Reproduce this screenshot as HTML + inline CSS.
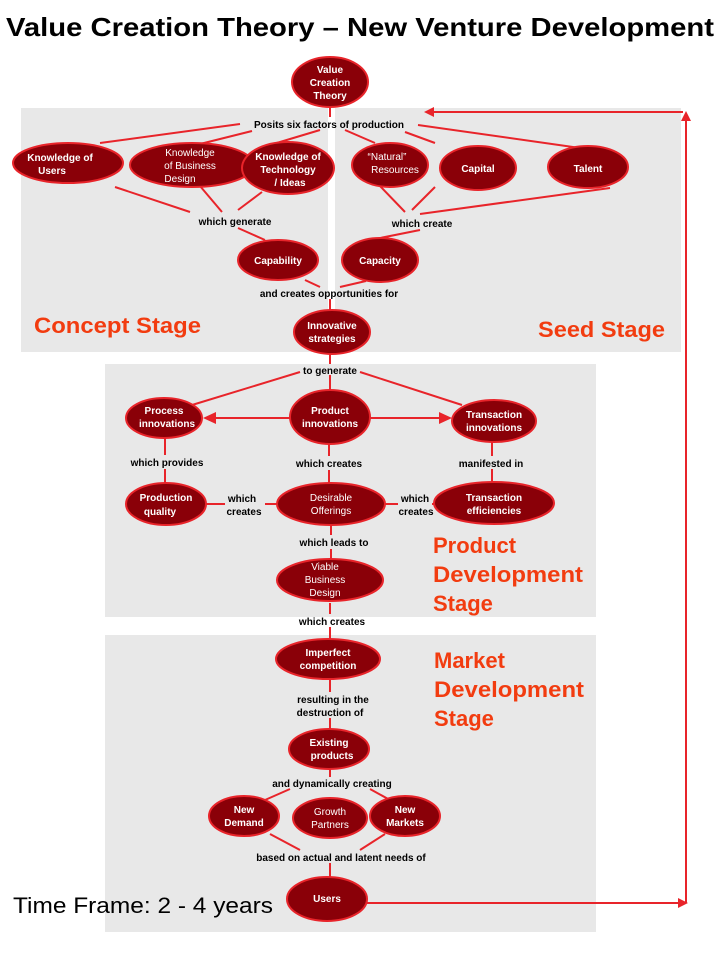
<!DOCTYPE html>
<html><head><meta charset="utf-8"><style>
html,body{margin:0;padding:0;background:#fff;}
svg{display:block;font-family:"Liberation Sans",Arial,sans-serif;}
.n{fill:#8a0008;stroke:#e8242a;stroke-width:2;}
.t{fill:#fff;font-size:10px;font-weight:bold;text-anchor:middle;}
.tn{fill:#fff;font-size:10px;text-anchor:middle;}
.l{fill:#000;font-size:10px;font-weight:bold;text-anchor:middle;}
.s{fill:#f23c10;font-size:22px;font-weight:bold;}
.c{stroke:#e8242a;stroke-width:2;fill:none;}
</style></head><body>
<svg width="720" height="960" viewBox="0 0 720 960">
<text x="360" y="36" text-anchor="middle" font-size="26" font-weight="bold" textLength="708" lengthAdjust="spacingAndGlyphs">Value Creation Theory – New Venture Development</text>
<rect x="21" y="108" width="307" height="244" fill="#e8e8e8"/>
<rect x="335" y="108" width="346" height="244" fill="#e8e8e8"/>
<rect x="105" y="364" width="491" height="253" fill="#e8e8e8"/>
<rect x="105" y="635" width="491" height="297" fill="#e8e8e8"/>
<g class="c">
<line x1="330" y1="105" x2="330" y2="117"/>
<line x1="240" y1="124" x2="100" y2="143"/>
<line x1="252" y1="131" x2="200" y2="144"/>
<line x1="320" y1="130" x2="270" y2="145"/>
<line x1="345" y1="130" x2="375" y2="143"/>
<line x1="405" y1="132" x2="435" y2="143"/>
<line x1="418" y1="125" x2="580" y2="148"/>
<line x1="115" y1="187" x2="190" y2="212"/>
<line x1="200" y1="186" x2="222" y2="212"/>
<line x1="262" y1="192" x2="238" y2="210"/>
<line x1="380" y1="186" x2="405" y2="212"/>
<line x1="435" y1="187" x2="412" y2="210"/>
<line x1="610" y1="188" x2="420" y2="214"/>
<line x1="238" y1="228" x2="265" y2="240"/>
<line x1="420" y1="230" x2="370" y2="240"/>
<line x1="305" y1="280" x2="320" y2="287"/>
<line x1="366" y1="281" x2="340" y2="287"/>
<line x1="330" y1="299" x2="330" y2="312"/>
<line x1="330" y1="354" x2="330" y2="364"/>
<line x1="300" y1="372" x2="192" y2="405"/>
<line x1="360" y1="372" x2="462" y2="405"/>
<line x1="330" y1="375" x2="330" y2="390"/>
<line x1="290" y1="418" x2="215" y2="418"/>
<line x1="370" y1="418" x2="440" y2="418"/>
<line x1="165" y1="438" x2="165" y2="455"/>
<line x1="165" y1="469" x2="165" y2="484"/>
<line x1="329" y1="444" x2="329" y2="456"/>
<line x1="329" y1="470" x2="329" y2="484"/>
<line x1="492" y1="442" x2="492" y2="456"/>
<line x1="492" y1="469" x2="492" y2="483"/>
<line x1="206" y1="504" x2="225" y2="504"/>
<line x1="265" y1="504" x2="278" y2="504"/>
<line x1="385" y1="504" x2="398" y2="504"/>
<line x1="432" y1="504" x2="445" y2="504"/>
<line x1="331" y1="525" x2="331" y2="535"/>
<line x1="331" y1="549" x2="331" y2="559"/>
<line x1="330" y1="603" x2="330" y2="614"/>
<line x1="330" y1="627" x2="330" y2="639"/>
<line x1="330" y1="679" x2="330" y2="692"/>
<line x1="330" y1="718" x2="330" y2="729"/>
<line x1="330" y1="769" x2="330" y2="777"/>
<line x1="290" y1="789" x2="265" y2="800"/>
<line x1="370" y1="789" x2="390" y2="800"/>
<line x1="270" y1="834" x2="300" y2="850"/>
<line x1="385" y1="834" x2="360" y2="850"/>
<line x1="330" y1="863" x2="330" y2="877"/>
<line x1="367" y1="903" x2="680" y2="903"/>
<line x1="686" y1="903" x2="686" y2="118"/>
<line x1="683" y1="112" x2="432" y2="112"/>
</g>
<g fill="#e8242a">
<polygon points="688,903 678,898 678,908"/>
<polygon points="686,111 681,121 691,121"/>
<polygon points="424,112 434,107 434,117"/>
<polygon points="203,418 216,412 216,424"/>
<polygon points="452,418 439,412 439,424"/>
</g>
<ellipse class="n" cx="330" cy="82" rx="38" ry="25"/>
<text class="t" x="330" y="73">Value</text><text class="t" x="330" y="86">Creation</text><text class="t" x="330" y="99">Theory</text>
<text class="l" x="329" y="128">Posits six factors  of production</text>
<ellipse class="n" cx="68" cy="163" rx="55" ry="20"/>
<text class="t" x="60" y="161">Knowledge of</text><text class="t" x="52" y="174">Users</text>
<ellipse class="n" cx="192" cy="165" rx="62" ry="22"/>
<text class="tn" x="190" y="156">Knowledge</text><text class="tn" x="190" y="169">of Business</text><text class="tn" x="180" y="182">Design</text>
<ellipse class="n" cx="288" cy="168" rx="46" ry="26"/>
<text class="t" x="288" y="160">Knowledge of</text><text class="t" x="288" y="173">Technology</text><text class="t" x="290" y="186">/ Ideas</text>
<ellipse class="n" cx="390" cy="165" rx="38" ry="22"/>
<text class="tn" x="387" y="160">“Natural”</text><text class="tn" x="395" y="173">Resources</text>
<ellipse class="n" cx="478" cy="168" rx="38" ry="22"/>
<text class="t" x="478" y="172">Capital</text>
<ellipse class="n" cx="588" cy="167" rx="40" ry="21"/>
<text class="t" x="588" y="172">Talent</text>
<text class="l" x="235" y="225">which generate</text>
<text class="l" x="422" y="227">which create</text>
<ellipse class="n" cx="278" cy="260" rx="40" ry="20"/>
<text class="t" x="278" y="264">Capability</text>
<ellipse class="n" cx="380" cy="260" rx="38" ry="22"/>
<text class="t" x="380" y="264">Capacity</text>
<text class="l" x="329" y="297">and creates opportunities for</text>
<ellipse class="n" cx="332" cy="332" rx="38" ry="22"/>
<text class="t" x="332" y="329">Innovative</text><text class="t" x="332" y="342">strategies</text>
<text class="s" x="34" y="333" textLength="167" lengthAdjust="spacingAndGlyphs">Concept Stage</text>
<text class="s" x="538" y="337" textLength="127" lengthAdjust="spacingAndGlyphs">Seed Stage</text>
<text class="l" x="330" y="374">to generate</text>
<ellipse class="n" cx="164" cy="418" rx="38" ry="20"/>
<text class="t" x="164" y="414">Process</text><text class="t" x="167" y="427">innovations</text>
<ellipse class="n" cx="330" cy="417" rx="40" ry="27"/>
<text class="t" x="330" y="414">Product</text><text class="t" x="330" y="427">innovations</text>
<ellipse class="n" cx="494" cy="421" rx="42" ry="21"/>
<text class="t" x="494" y="418">Transaction</text><text class="t" x="494" y="431">innovations</text>
<text class="l" x="167" y="466">which provides</text>
<text class="l" x="329" y="467">which creates</text>
<text class="l" x="491" y="467">manifested in</text>
<ellipse class="n" cx="166" cy="504" rx="40" ry="21"/>
<text class="t" x="166" y="501">Production</text><text class="t" x="160" y="515">quality</text>
<ellipse class="n" cx="331" cy="504" rx="54" ry="21"/>
<text class="tn" x="331" y="501">Desirable</text><text class="tn" x="331" y="514">Offerings</text>
<ellipse class="n" cx="494" cy="503" rx="60" ry="21"/>
<text class="t" x="494" y="501">Transaction</text><text class="t" x="494" y="514">efficiencies</text>
<text class="l" x="242" y="502">which</text><text class="l" x="244" y="515">creates</text>
<text class="l" x="415" y="502">which</text><text class="l" x="416" y="515">creates</text>
<text class="l" x="334" y="546">which leads to</text>
<ellipse class="n" cx="330" cy="580" rx="53" ry="21"/>
<text class="tn" x="325" y="570">Viable</text><text class="tn" x="325" y="583">Business</text><text class="tn" x="325" y="596">Design</text>
<text class="s" x="433" y="553">Product</text><text class="s" x="433" y="582" textLength="150" lengthAdjust="spacingAndGlyphs">Development</text><text class="s" x="433" y="611">Stage</text>
<text class="l" x="332" y="625">which creates</text>
<ellipse class="n" cx="328" cy="659" rx="52" ry="20"/>
<text class="t" x="328" y="656">Imperfect</text><text class="t" x="328" y="669">competition</text>
<text class="l" x="333" y="703">resulting in the</text><text class="l" x="330" y="716">destruction of</text>
<text class="s" x="434" y="668">Market</text><text class="s" x="434" y="697" textLength="150" lengthAdjust="spacingAndGlyphs">Development</text><text class="s" x="434" y="726">Stage</text>
<ellipse class="n" cx="329" cy="749" rx="40" ry="20"/>
<text class="t" x="329" y="746">Existing</text><text class="t" x="332" y="759">products</text>
<text class="l" x="332" y="787">and dynamically creating</text>
<ellipse class="n" cx="244" cy="816" rx="35" ry="20"/>
<text class="t" x="244" y="813">New</text><text class="t" x="244" y="826">Demand</text>
<ellipse class="n" cx="330" cy="818" rx="37" ry="20"/>
<text class="tn" x="330" y="815">Growth</text><text class="tn" x="330" y="828">Partners</text>
<ellipse class="n" cx="405" cy="816" rx="35" ry="20"/>
<text class="t" x="405" y="813">New</text><text class="t" x="405" y="826">Markets</text>
<text class="l" x="341" y="861">based on actual and latent needs of</text>
<ellipse class="n" cx="327" cy="899" rx="40" ry="22"/>
<text class="t" x="327" y="902">Users</text>
<text x="13" y="913" font-size="22" textLength="260" lengthAdjust="spacingAndGlyphs">Time Frame:  2 - 4 years</text>
</svg>
</body></html>
